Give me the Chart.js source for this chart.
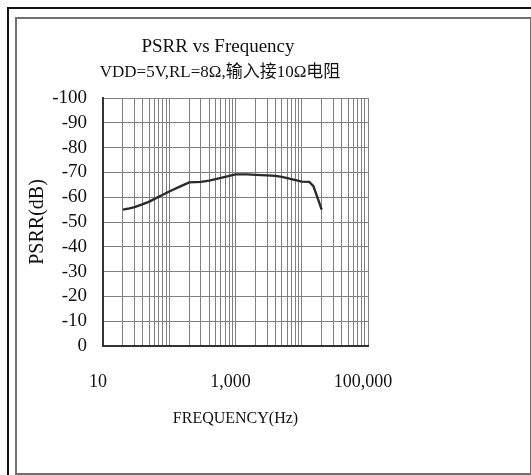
<!DOCTYPE html>
<html>
<head>
<meta charset="utf-8">
<script src="https://cdn.jsdelivr.net/npm/chart.js@4.4.1/dist/chart.umd.min.js"></script>
<style>
  body { margin: 0; background: #fff; }
  #outer { position: absolute; left: 7px; top: 7px; width: 530px; height: 470px;
           border-left: 2px solid #111; border-top: 2px solid #111; }
  #inner { position: absolute; left: 15px; top: 17px; width: 513px; height: 454px;
           border: 2px solid #707070; }
  #chart { position: absolute; left: 0; top: 0; }
</style>
</head>
<body>
<div id="outer"></div>
<div id="inner"></div>
<canvas id="chart" width="436" height="475"></canvas>
<script>
// frequency (Hz) and PSRR (dB)
const freqs = [20, 25, 30, 40, 50, 60, 80, 100, 150, 200, 300, 400, 500, 700,
  1000, 1500, 2000, 3000, 4000, 5000, 7000, 10000, 13000, 15000, 20000];
const psrr = [-55, -55.5, -56, -57.2, -58.2, -59.3, -61, -62.3, -64.5, -66, -66.2, -66.7, -67.3, -68.2,
  -69.2, -69.2, -69, -68.8, -68.6, -68.2, -67.3, -66.3, -66.2, -64.5, -55];
const xTickLabels = [10, 1000, 100000];
const yTicks = [-100, -90, -80, -70, -60, -50, -40, -30, -20, -10, 0];
const titleText = 'PSRR vs Frequency';
const subtitleText = 'VDD=5V,RL=8Ω,输入接10Ω电阻';

const fontFam = '"Liberation Serif", "Noto Sans CJK SC", serif';

// grid lines at 1..9 of every decade
const gridFreqs = [];
for (let d = 10; d < 100000; d *= 10) {
  for (let m = 1; m < 10; m++) gridFreqs.push(m * d);
}
gridFreqs.push(100000);

// the two title lines sit left of the plot centre, so place them by hand
const titleLines = {
  id: 'titleLines',
  afterDraw(chart) {
    const c = chart.ctx;
    c.save();
    c.fillStyle = '#111';
    c.textAlign = 'center';
    c.textBaseline = 'middle';
    c.font = '19px ' + fontFam;
    c.fillText(titleText, 218, 47);
    c.font = '17px ' + fontFam;
    c.fillText(subtitleText, 220, 73);
    c.restore();
  }
};

const ctx = document.getElementById("chart").getContext("2d");

new Chart(ctx, {
  type: 'line',
  data: {
    datasets: [{
      data: freqs.map((f, i) => ({ x: f, y: psrr[i] })),
      borderColor: '#2a2a2a',
      borderWidth: 2.4,
      pointRadius: 0,
      tension: 0,
      fill: false
    }]
  },
  options: {
    responsive: false,
    animation: false,
    layout: { padding: { left: 0, right: 68, top: 98, bottom: 0 } },
    scales: {
      x: {
        type: 'logarithmic',
        min: 10,
        max: 100000,
        afterBuildTicks: scale => { scale.ticks = gridFreqs.map(v => ({ value: v })); },
        afterFit: scale => { scale.height = 129; },
        grid: { color: '#808080', lineWidth: 1, drawTicks: false },
        border: { color: '#333', width: 2 },
        ticks: {
          autoSkip: false,
          maxRotation: 0,
          padding: 25,
          labelOffset: -5,
          color: '#111',
          font: { family: fontFam, size: 18 },
          callback: v => xTickLabels.includes(v) ? v.toLocaleString('en-US') : ''
        },
        title: {
          display: true,
          text: 'FREQUENCY(Hz)',
          color: '#111',
          font: { family: fontFam, size: 16 },
          padding: { top: 0, bottom: 47 }
        }
      },
      y: {
        min: -100,
        max: 0,
        reverse: true,
        afterBuildTicks: scale => { scale.ticks = yTicks.map(v => ({ value: v })); },
        afterFit: scale => { scale.width = 103; },
        grid: { color: '#808080', lineWidth: 1, drawTicks: false },
        border: { color: '#333', width: 2 },
        ticks: {
          autoSkip: false,
          padding: 16,
          color: '#111',
          font: { family: fontFam, size: 19 }
        },
        title: {
          display: true,
          text: 'PSRR(dB)',
          color: '#111',
          font: { family: fontFam, size: 20 },
          padding: { top: 26, bottom: 0 }
        }
      }
    },
    plugins: {
      legend: { display: false },
      tooltip: { enabled: false }
    }
  },
  plugins: [titleLines]
});
</script>
</body>
</html>
